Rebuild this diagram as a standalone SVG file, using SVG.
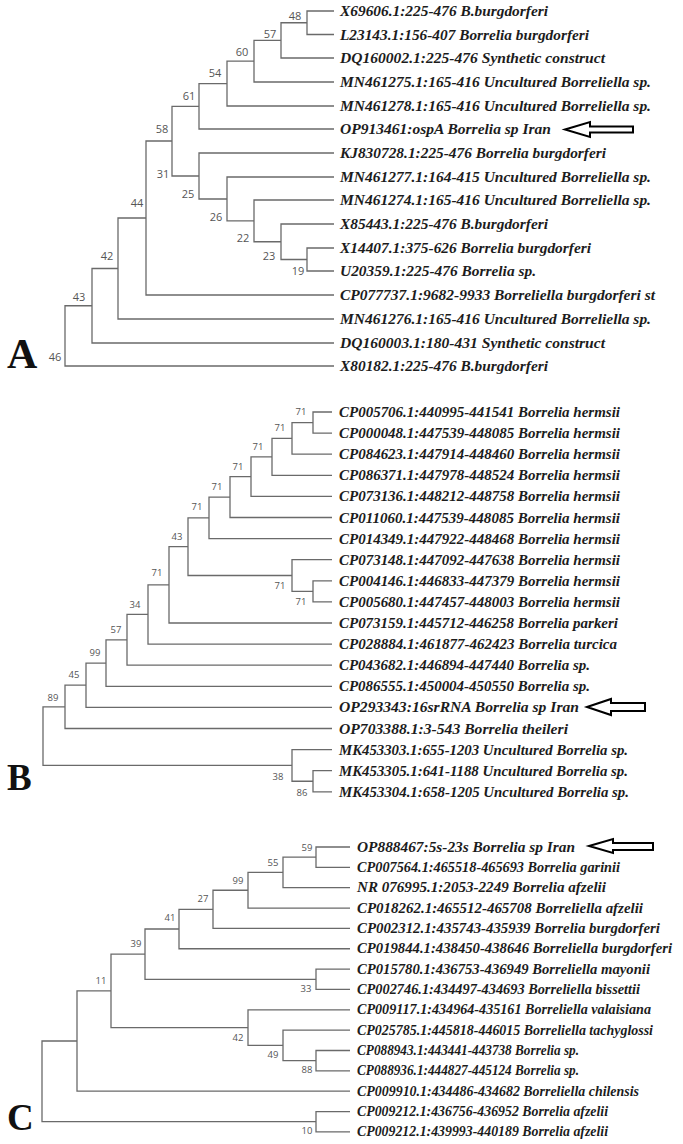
<svg xmlns="http://www.w3.org/2000/svg" width="683" height="1144" viewBox="0 0 683 1144">
<style>
.br{fill:none;stroke:#6a6a6a;stroke-width:1.3}
.lf{font-family:"Liberation Serif",serif;font-weight:bold;font-style:italic;fill:#1c1c1c}
.a{font-size:15px}
.c{font-size:14px}
.bs{font-family:"Open Sans","Noto Sans",sans-serif;fill:#555;text-anchor:middle}
.bsA{font-size:11px}
.bsB{font-size:9.5px}
.pl{font-family:"Liberation Serif",serif;font-weight:bold;fill:#111}
.arr{fill:#fff;stroke:#000;stroke-width:2;stroke-linejoin:miter}
</style>
<rect width="683" height="1144" fill="#fff"/>
<g id="connectors">
<g id="treeA">
<path class="br" d="M334,11 H307 V34.5 H334"/>
<path class="br" d="M307,22.75 H281 V58 H334"/>
<path class="br" d="M281,40.4 H254 V82 H334"/>
<path class="br" d="M254,61.2 H227 V106 H334"/>
<path class="br" d="M227,83.6 H199 V129 H334"/>
<path class="br" d="M199,106.3 H172 V176 H199"/>
<path class="br" d="M334,153 H199 V199 H227"/>
<path class="br" d="M334,177 H227 V220.9 H254"/>
<path class="br" d="M334,200 H254 V241.75 H281"/>
<path class="br" d="M334,224 H281 V259.5 H307"/>
<path class="br" d="M334,248 H307 V271 H334"/>
<path class="br" d="M172,141 H146 V295 H334"/>
<path class="br" d="M146,218 H118 V319 H334"/>
<path class="br" d="M118,268.5 H92 V343 H334"/>
<path class="br" d="M92,305.75 H65 V366 H334"/>
</g>
<g id="treeB">
<path class="br" d="M332,412 H313 V433.1 H332"/>
<path class="br" d="M313,422.55 H292 V454.2 H332"/>
<path class="br" d="M292,438.4 H272 V475.3 H332"/>
<path class="br" d="M272,456.85 H251 V496.4 H332"/>
<path class="br" d="M251,476.6 H230 V517.5 H332"/>
<path class="br" d="M230,497.05 H209 V538.6 H332"/>
<path class="br" d="M332,580.8 H313 V601.9 H332"/>
<path class="br" d="M332,559.7 H292 V591.35 H313"/>
<path class="br" d="M209,517.8 H188 V575.5 H292"/>
<path class="br" d="M188,546.65 H169 V623 H332"/>
<path class="br" d="M169,584.8 H148 V644.1 H332"/>
<path class="br" d="M148,614.45 H127 V665.2 H332"/>
<path class="br" d="M127,639.8 H106 V686.3 H332"/>
<path class="br" d="M106,663.05 H86 V707.4 H332"/>
<path class="br" d="M86,685.2 H65 V728.5 H332"/>
<path class="br" d="M332,770.7 H313 V791.8 H332"/>
<path class="br" d="M332,749.6 H292 V781.25 H313"/>
<path class="br" d="M65,706.85 H43 V765.4 H292"/>
</g>
<g id="treeC">
<path class="br" d="M350,847 H316 V867.35 H350"/>
<path class="br" d="M316,857.2 H283 V887.7 H350"/>
<path class="br" d="M283,872.45 H248 V908.05 H350"/>
<path class="br" d="M248,890.25 H213 V928.4 H350"/>
<path class="br" d="M213,909.3 H179 V948.75 H350"/>
<path class="br" d="M350,969.1 H316 V989.45 H350"/>
<path class="br" d="M179,929 H145 V979.3 H316"/>
<path class="br" d="M350,1050.5 H316 V1070.85 H350"/>
<path class="br" d="M350,1030.15 H283 V1060.7 H316"/>
<path class="br" d="M350,1009.8 H248 V1045.4 H283"/>
<path class="br" d="M145,954.15 H111 V1027.6 H248"/>
<path class="br" d="M111,990.9 H77 V1091.2 H350"/>
<path class="br" d="M350,1111.55 H316 V1131.9 H350"/>
<path class="br" d="M77,1041 H42 V1121.7 H316"/>
</g>
</g>
<g id="bootstrapA" class="bs bsA">
<text x="295" y="20">48</text><text x="270" y="38">57</text><text x="242" y="56">60</text>
<text x="215" y="77">54</text><text x="189" y="100">61</text><text x="162" y="133">58</text>
<text x="163" y="178">31</text><text x="188" y="198">25</text><text x="216" y="221">26</text>
<text x="243" y="242">22</text><text x="269" y="260">23</text><text x="298" y="275">19</text>
<text x="137" y="207">44</text><text x="107" y="260">42</text><text x="79" y="301">43</text>
<text x="55" y="361">46</text>
</g>
<g id="bootstrapB" class="bs bsB">
<text x="301" y="415">71</text><text x="280" y="431">71</text><text x="258" y="450">71</text>
<text x="238" y="470">71</text><text x="217" y="490">71</text><text x="197" y="510">71</text>
<text x="177" y="540">43</text><text x="157" y="576">71</text><text x="280" y="589">71</text>
<text x="301" y="605">71</text><text x="135" y="608">34</text><text x="116" y="633">57</text>
<text x="95" y="656">99</text><text x="74" y="678">45</text><text x="53" y="701">89</text>
<text x="278" y="780">38</text><text x="302" y="796">86</text>
</g>
<g id="bootstrapC" class="bs bsB">
<text x="307" y="851">59</text><text x="273" y="866">55</text><text x="238" y="884">99</text>
<text x="203" y="902">27</text><text x="170" y="921">41</text><text x="136" y="947">39</text>
<text x="306" y="992">33</text><text x="101" y="984">11</text><text x="238" y="1041">42</text>
<text x="273" y="1058">49</text><text x="307" y="1073">88</text><text x="307" y="1134">10</text>
</g>
<g id="leavesA" class="lf a">
<text x="340" y="16" textLength="208" lengthAdjust="spacingAndGlyphs">X69606.1:225-476 B.burgdorferi</text>
<text x="340" y="39.5" textLength="249" lengthAdjust="spacingAndGlyphs">L23143.1:156-407 Borrelia burgdorferi</text>
<text x="340" y="63" textLength="265" lengthAdjust="spacingAndGlyphs">DQ160002.1:225-476 Synthetic construct</text>
<text x="340" y="87" textLength="311" lengthAdjust="spacingAndGlyphs">MN461275.1:165-416 Uncultured Borreliella sp.</text>
<text x="340" y="111" textLength="311" lengthAdjust="spacingAndGlyphs">MN461278.1:165-416 Uncultured Borreliella sp.</text>
<text x="340" y="134" textLength="211" lengthAdjust="spacingAndGlyphs">OP913461:ospA Borrelia sp Iran</text>
<text x="340" y="158" textLength="266" lengthAdjust="spacingAndGlyphs">KJ830728.1:225-476 Borrelia burgdorferi</text>
<text x="340" y="182" textLength="311" lengthAdjust="spacingAndGlyphs">MN461277.1:164-415 Uncultured Borreliella sp.</text>
<text x="340" y="205" textLength="311" lengthAdjust="spacingAndGlyphs">MN461274.1:165-416 Uncultured Borreliella sp.</text>
<text x="340" y="229" textLength="208" lengthAdjust="spacingAndGlyphs">X85443.1:225-476 B.burgdorferi</text>
<text x="340" y="253" textLength="251" lengthAdjust="spacingAndGlyphs">X14407.1:375-626 Borrelia burgdorferi</text>
<text x="340" y="276" textLength="196" lengthAdjust="spacingAndGlyphs">U20359.1:225-476 Borrelia sp.</text>
<text x="340" y="300" textLength="315" lengthAdjust="spacingAndGlyphs">CP077737.1:9682-9933 Borreliella burgdorferi st</text>
<text x="340" y="324" textLength="311" lengthAdjust="spacingAndGlyphs">MN461276.1:165-416 Uncultured Borreliella sp.</text>
<text x="340" y="348" textLength="265" lengthAdjust="spacingAndGlyphs">DQ160003.1:180-431 Synthetic construct</text>
<text x="340" y="371" textLength="208" lengthAdjust="spacingAndGlyphs">X80182.1:225-476 B.burgdorferi</text>
</g>
<g id="leavesB" class="lf a">
<text x="339" y="417" textLength="281" lengthAdjust="spacingAndGlyphs">CP005706.1:440995-441541 Borrelia hermsii</text>
<text x="339" y="438.1" textLength="281" lengthAdjust="spacingAndGlyphs">CP000048.1:447539-448085 Borrelia hermsii</text>
<text x="339" y="459.2" textLength="281" lengthAdjust="spacingAndGlyphs">CP084623.1:447914-448460 Borrelia hermsii</text>
<text x="339" y="480.3" textLength="281" lengthAdjust="spacingAndGlyphs">CP086371.1:447978-448524 Borrelia hermsii</text>
<text x="339" y="501.4" textLength="281" lengthAdjust="spacingAndGlyphs">CP073136.1:448212-448758 Borrelia hermsii</text>
<text x="339" y="522.5" textLength="281" lengthAdjust="spacingAndGlyphs">CP011060.1:447539-448085 Borrelia hermsii</text>
<text x="339" y="543.6" textLength="281" lengthAdjust="spacingAndGlyphs">CP014349.1:447922-448468 Borrelia hermsii</text>
<text x="339" y="564.7" textLength="281" lengthAdjust="spacingAndGlyphs">CP073148.1:447092-447638 Borrelia hermsii</text>
<text x="339" y="585.8" textLength="281" lengthAdjust="spacingAndGlyphs">CP004146.1:446833-447379 Borrelia hermsii</text>
<text x="339" y="606.9" textLength="281" lengthAdjust="spacingAndGlyphs">CP005680.1:447457-448003 Borrelia hermsii</text>
<text x="339" y="628" textLength="279" lengthAdjust="spacingAndGlyphs">CP073159.1:445712-446258 Borrelia parkeri</text>
<text x="339" y="649.1" textLength="278" lengthAdjust="spacingAndGlyphs">CP028884.1:461877-462423 Borrelia turcica</text>
<text x="339" y="670.2" textLength="251" lengthAdjust="spacingAndGlyphs">CP043682.1:446894-447440 Borrelia sp.</text>
<text x="339" y="691.3" textLength="251" lengthAdjust="spacingAndGlyphs">CP086555.1:450004-450550 Borrelia sp.</text>
<text x="339" y="712.4" textLength="240" lengthAdjust="spacingAndGlyphs">OP293343:16srRNA Borrelia sp Iran</text>
<text x="339" y="733.5" textLength="229" lengthAdjust="spacingAndGlyphs">OP703388.1:3-543 Borrelia theileri</text>
<text x="339" y="754.6" textLength="289" lengthAdjust="spacingAndGlyphs">MK453303.1:655-1203 Uncultured Borrelia sp.</text>
<text x="339" y="775.7" textLength="289" lengthAdjust="spacingAndGlyphs">MK453305.1:641-1188 Uncultured Borrelia sp.</text>
<text x="339" y="796.8" textLength="290" lengthAdjust="spacingAndGlyphs">MK453304.1:658-1205 Uncultured Borrelia sp.</text>
</g>
<g id="leavesC" class="lf c">
<text x="357" y="851.5" textLength="218" lengthAdjust="spacingAndGlyphs">OP888467:5s-23s Borrelia sp Iran</text>
<text x="357" y="871.85" textLength="263" lengthAdjust="spacingAndGlyphs">CP007564.1:465518-465693 Borrelia garinii</text>
<text x="357" y="892.2" textLength="249" lengthAdjust="spacingAndGlyphs">NR 076995.1:2053-2249 Borrelia afzelii</text>
<text x="357" y="912.55" textLength="286" lengthAdjust="spacingAndGlyphs">CP018262.1:465512-465708 Borreliella afzelii</text>
<text x="357" y="932.9" textLength="303" lengthAdjust="spacingAndGlyphs">CP002312.1:435743-435939 Borrelia burgdorferi</text>
<text x="357" y="953.25" textLength="315" lengthAdjust="spacingAndGlyphs">CP019844.1:438450-438646 Borreliella burgdorferi</text>
<text x="357" y="973.6" textLength="293" lengthAdjust="spacingAndGlyphs">CP015780.1:436753-436949 Borreliella mayonii</text>
<text x="357" y="993.95" textLength="283" lengthAdjust="spacingAndGlyphs">CP002746.1:434497-434693 Borreliella bissettii</text>
<text x="357" y="1014.3" textLength="294" lengthAdjust="spacingAndGlyphs">CP009117.1:434964-435161 Borreliella valaisiana</text>
<text x="357" y="1034.65" textLength="296" lengthAdjust="spacingAndGlyphs">CP025785.1:445818-446015 Borreliella tachyglossi</text>
<text x="357" y="1055" textLength="222" lengthAdjust="spacingAndGlyphs">CP088943.1:443441-443738 Borrelia sp.</text>
<text x="357" y="1075.35" textLength="222" lengthAdjust="spacingAndGlyphs">CP088936.1:444827-445124 Borrelia sp.</text>
<text x="357" y="1095.7" textLength="282" lengthAdjust="spacingAndGlyphs">CP009910.1:434486-434682 Borreliella chilensis</text>
<text x="357" y="1116.05" textLength="251" lengthAdjust="spacingAndGlyphs">CP009212.1:436756-436952 Borrelia afzelii</text>
<text x="357" y="1136.4" textLength="251" lengthAdjust="spacingAndGlyphs">CP009212.1:439993-440189 Borrelia afzelii</text>
</g>
<g id="arrowA"><polygon class="arr" points="565,129.5 590,122 590,126.5 633,126.5 633,132.5 590,132.5 590,137"/></g>
<g id="arrowB"><polygon class="arr" points="587,707 611,699 611,703 645,703 645,711 611,711 611,715"/></g>
<g id="arrowC"><polygon class="arr" points="589,846 613,839 613,843 653,843 653,850 613,850 613,853"/></g>
<g id="panelA"><text class="pl" x="7" y="368" font-size="42">A</text></g>
<g id="panelB"><text class="pl" x="7" y="790" font-size="37">B</text></g>
<g id="panelC"><text class="pl" x="7" y="1130" font-size="37">C</text></g>
</svg>
